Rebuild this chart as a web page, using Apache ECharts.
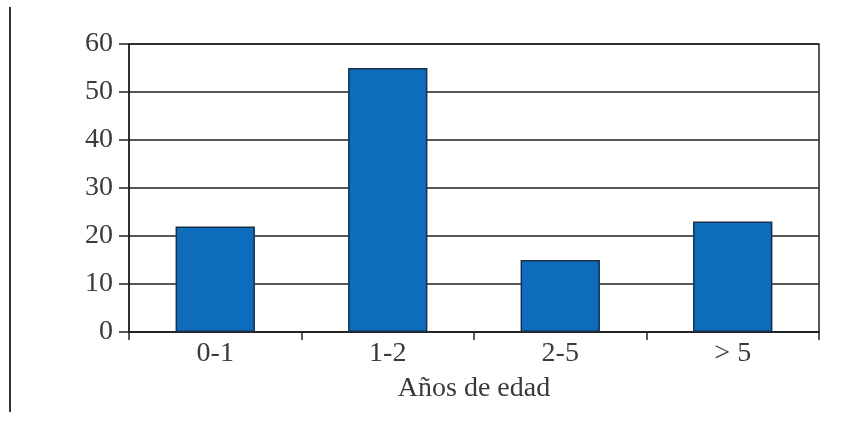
<!DOCTYPE html>
<html>
<head>
<meta charset="utf-8">
<script src="https://cdn.jsdelivr.net/npm/echarts@6/dist/echarts.min.js"></script>
<style>
html,body{margin:0;padding:0;background:#fff;}
#main{width:851px;height:425px;}
</style>
</head>
<body>
<div id="main"></div>
<script>
// datos del gráfico
var categorias = ['0-1', '1-2', '2-5', '> 5'];
var valores = [22, 55, 15, 23];
var tituloX = 'Años de edad';

var chart = echarts.init(document.getElementById('main'));
var fuente = 'Liberation Serif';

var option = {
    animation: false,
    backgroundColor: '#fff',
    grid: {
        left: 129, right: 32, top: 44, bottom: 93,
        show: true,
        borderColor: '#222',
        borderWidth: 1.5
    },
    xAxis: {
        type: 'category',
        data: categorias,
        name: tituloX,
        nameLocation: 'middle',
        nameGap: 43,
        nameTextStyle: {fontFamily: fuente, fontSize: 28, color: '#3a3a3a'},
        axisLine: {lineStyle: {color: '#222', width: 1.5}},
        axisTick: {show: true, length: 8, alignWithLabel: false, lineStyle: {color: '#222', width: 1.5}},
        axisLabel: {fontFamily: fuente, fontSize: 28, color: '#3a3a3a', margin: 8}
    },
    yAxis: {
        type: 'value',
        min: 0, max: 60, interval: 10,
        axisLine: {show: true, lineStyle: {color: '#222', width: 1.5}},
        axisTick: {show: true, length: 10, lineStyle: {color: '#222', width: 1.5}},
        axisLabel: {fontFamily: fuente, fontSize: 28, color: '#3a3a3a', margin: 16},
        splitLine: {show: true, lineStyle: {color: '#222', width: 1.5}}
    },
    series: [{
        type: 'bar',
        data: valores,
        barWidth: '46%',
        itemStyle: {color: '#0e6cbc', borderColor: '#1c2f4a', borderWidth: 1.5}
    }],
    graphic: [{
        type: 'line',
        shape: {x1: 10, y1: 7, x2: 10, y2: 412},
        style: {stroke: '#333', lineWidth: 2}
    }]
};

chart.setOption(option);
</script>
</body>
</html>
